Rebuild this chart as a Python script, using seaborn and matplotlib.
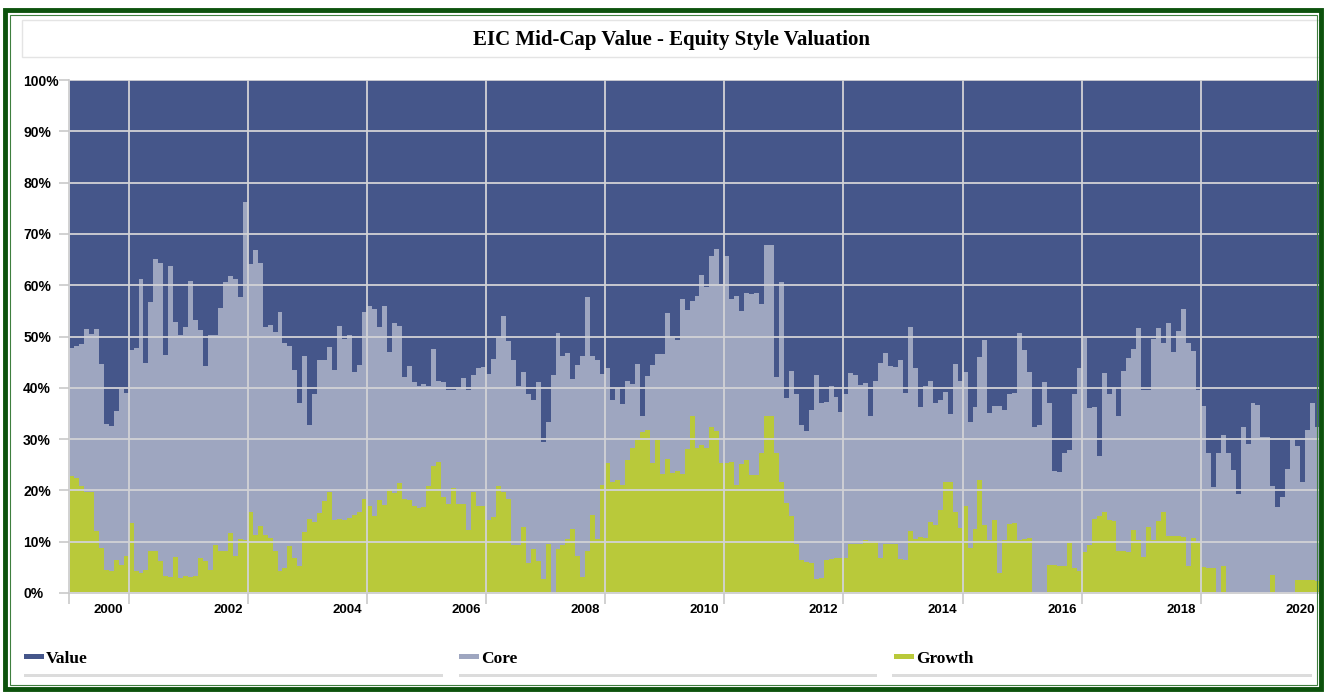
import numpy as np
import pandas as pd
import matplotlib
matplotlib.use("Agg")
import matplotlib.pyplot as plt
import seaborn as sns
from matplotlib.patches import Rectangle, FancyBboxPatch

# ---------------- data (monthly, Jan 1999 .. Dec 2019, percent) ----------------
styles = ["Value", "Core", "Growth"]

value = [
    52.2, 51.9, 51.5, 48.6, 49.5, 48.6, 55.4, 67.1, 67.4, 64.5, 60.2, 61.0,
    52.7, 52.2, 38.8, 55.1, 43.2, 34.8, 35.6, 53.7, 36.2, 47.1, 49.8, 48.1,
    39.1, 46.8, 48.8, 55.8, 49.8, 49.8, 44.4, 39.4, 38.3, 38.7, 42.3, 23.8,
    35.8, 33.1, 35.6, 48.1, 47.7, 49.2, 45.3, 51.2, 51.9, 56.6, 63.0, 53.8,
    67.3, 61.3, 54.6, 54.6, 52.1, 56.5, 47.9, 50.4, 49.8, 56.9, 55.6, 45.3,
    44.1, 44.6, 48.1, 44.1, 53.1, 47.3, 47.9, 57.8, 55.8, 58.8, 59.6, 59.2,
    59.6, 52.4, 58.6, 58.8, 60.5, 60.5, 60.3, 58.1, 60.5, 57.6, 56.1, 55.9,
    57.3, 54.4, 50.2, 46.1, 50.8, 54.6, 59.6, 56.9, 61.3, 62.3, 58.8, 70.5,
    66.7, 57.6, 49.3, 53.8, 53.2, 58.3, 55.6, 53.8, 42.3, 53.8, 54.6, 57.3,
    56.2, 62.4, 60.1, 63.1, 58.7, 59.2, 55.3, 65.4, 57.7, 55.6, 53.4, 53.4,
    45.4, 50.3, 50.7, 42.6, 44.9, 43.0, 42.1, 38.0, 40.3, 34.4, 32.9, 39.8,
    34.3, 42.6, 42.1, 45.1, 41.6, 41.7, 41.6, 43.6, 32.1, 32.1, 57.8, 39.4,
    61.9, 56.7, 61.3, 67.3, 68.4, 64.4, 57.6, 63.0, 62.7, 59.6, 61.7, 64.7,
    61.3, 57.1, 57.6, 59.4, 59.0, 65.5, 58.6, 55.2, 53.3, 55.8, 55.9, 54.6,
    61.0, 48.1, 56.1, 63.7, 59.6, 58.6, 63.0, 62.3, 60.8, 65.2, 55.4, 58.6,
    56.9, 66.6, 63.7, 53.9, 50.6, 65.0, 63.5, 63.5, 64.4, 61.3, 61.0, 49.3,
    52.7, 56.9, 67.7, 67.3, 58.8, 63.0, 76.3, 76.5, 72.7, 72.1, 61.2, 56.1,
    50.2, 64.0, 63.7, 73.2, 57.1, 61.2, 60.0, 65.5, 56.7, 54.2, 52.4, 48.3,
    60.5, 60.5, 50.5, 48.3, 51.3, 47.3, 53.1, 49.0, 44.7, 51.2, 52.9, 60.5,
    63.6, 72.8, 79.4, 72.8, 69.2, 72.7, 76.0, 80.7, 67.6, 70.9, 62.9, 63.4,
    69.6, 69.6, 79.1, 83.3, 81.2, 75.8, 69.9, 71.4, 78.4, 68.3, 62.9, 67.6,
]

core = [
    25.0, 25.7, 27.7, 31.7, 30.8, 39.4, 35.8, 28.4, 28.4, 29.1, 34.3, 31.8,
    33.6, 43.6, 57.3, 40.4, 48.6, 57.0, 58.2, 42.9, 60.6, 45.9, 47.2, 48.5,
    57.7, 49.8, 44.3, 38.0, 45.7, 40.9, 47.4, 52.4, 50.1, 54.1, 47.1, 65.8,
    48.5, 55.6, 51.3, 40.6, 41.5, 42.6, 50.4, 43.9, 39.0, 36.5, 31.8, 34.4,
    18.2, 24.9, 29.8, 27.5, 28.3, 29.3, 37.6, 35.3, 35.5, 27.8, 28.7, 36.3,
    39.0, 40.4, 33.8, 38.7, 26.6, 33.3, 30.7, 23.8, 26.1, 24.3, 23.9, 24.1,
    19.6, 22.8, 15.9, 22.5, 22.1, 19.1, 22.3, 24.5, 27.2, 22.8, 27.0, 27.2,
    28.4, 30.7, 29.0, 34.2, 30.8, 36.1, 31.1, 30.3, 32.8, 29.1, 35.0, 26.7,
    23.8, 42.4, 42.1, 36.9, 36.2, 29.3, 37.2, 43.0, 49.5, 30.9, 34.8, 21.7,
    18.5, 15.9, 17.9, 15.9, 15.4, 12.6, 14.8, 3.3, 10.5, 19.0, 16.8, 23.5,
    28.4, 26.3, 25.5, 34.3, 27.1, 22.4, 29.7, 33.1, 31.4, 33.2, 35.5, 34.8,
    40.3, 31.8, 36.9, 29.8, 32.5, 35.3, 35.4, 29.1, 33.4, 33.4, 15.0, 39.0,
    20.5, 28.2, 29.1, 26.3, 25.5, 29.7, 39.6, 34.0, 30.9, 33.8, 31.5, 28.5,
    31.9, 33.3, 32.9, 31.0, 30.7, 24.4, 31.3, 38.0, 37.1, 34.7, 34.6, 38.8,
    32.6, 39.9, 33.3, 25.3, 29.6, 27.6, 23.7, 21.5, 17.6, 13.2, 28.8, 28.8,
    26.1, 24.6, 23.9, 24.0, 36.1, 24.7, 22.3, 32.6, 25.3, 25.2, 25.3, 40.4,
    36.7, 32.3, 32.3, 32.7, 41.2, 31.6, 18.2, 18.3, 22.1, 18.2, 33.9, 39.6,
    41.9, 26.7, 21.8, 11.8, 27.2, 24.5, 26.0, 26.3, 35.2, 37.9, 35.4, 41.4,
    32.5, 26.7, 39.2, 37.7, 32.9, 41.6, 35.8, 39.9, 44.3, 43.6, 36.4, 29.7,
    31.3, 22.4, 15.7, 27.2, 25.6, 27.3, 24.0, 19.3, 32.4, 29.1, 37.1, 36.6,
    30.4, 30.4, 17.3, 16.7, 18.8, 24.2, 30.1, 26.0, 19.1, 29.1, 34.6, 30.1,
]

growth = [
    22.8, 22.4, 20.8, 19.7, 19.7, 12.0, 8.8, 4.5, 4.2, 6.4, 5.5, 7.2,
    13.7, 4.2, 3.9, 4.5, 8.2, 8.2, 6.2, 3.4, 3.2, 7.0, 3.0, 3.4,
    3.2, 3.4, 6.9, 6.2, 4.5, 9.3, 8.2, 8.2, 11.6, 7.2, 10.6, 10.4,
    15.7, 11.3, 13.1, 11.3, 10.8, 8.2, 4.3, 4.9, 9.1, 6.9, 5.2, 11.8,
    14.5, 13.8, 15.6, 17.9, 19.6, 14.2, 14.5, 14.3, 14.7, 15.3, 15.7, 18.4,
    16.9, 15.0, 18.1, 17.2, 20.3, 19.4, 21.4, 18.4, 18.1, 16.9, 16.5, 16.7,
    20.8, 24.8, 25.5, 18.7, 17.4, 20.4, 17.4, 17.4, 12.3, 19.6, 16.9, 16.9,
    14.3, 14.9, 20.8, 19.7, 18.4, 9.3, 9.3, 12.8, 5.9, 8.6, 6.2, 2.8,
    9.5, 0.0, 8.6, 9.3, 10.6, 12.4, 7.2, 3.2, 8.2, 15.3, 10.6, 21.0,
    25.3, 21.7, 22.0, 21.0, 25.9, 28.2, 29.9, 31.3, 31.8, 25.4, 29.8, 23.1,
    26.2, 23.4, 23.8, 23.1, 28.0, 34.6, 28.2, 28.9, 28.3, 32.4, 31.6, 25.4,
    25.4, 25.6, 21.0, 25.1, 25.9, 23.0, 23.0, 27.3, 34.5, 34.5, 27.2, 21.6,
    17.6, 15.1, 9.6, 6.4, 6.1, 5.9, 2.8, 3.0, 6.4, 6.6, 6.8, 6.8,
    6.8, 9.6, 9.5, 9.6, 10.3, 10.1, 10.1, 6.8, 9.6, 9.5, 9.5, 6.6,
    6.4, 12.0, 10.6, 11.0, 10.8, 13.8, 13.3, 16.2, 21.6, 21.6, 15.8, 12.6,
    17.0, 8.8, 12.4, 22.1, 13.3, 10.3, 14.2, 3.9, 10.3, 13.5, 13.7, 10.3,
    10.6, 10.8, 0.0, 0.0, 0.0, 5.4, 5.5, 5.2, 5.2, 9.7, 4.9, 4.3,
    7.9, 9.3, 14.5, 15.0, 15.7, 14.3, 14.0, 8.2, 8.1, 7.9, 12.2, 10.3,
    7.0, 12.8, 10.3, 14.0, 15.8, 11.1, 11.1, 11.1, 11.0, 5.2, 10.7, 9.8,
    5.1, 4.8, 4.9, 0.0, 5.2, 0.0, 0.0, 0.0, 0.0, 0.0, 0.0, 0.0,
    0.0, 0.0, 3.6, 0.0, 0.0, 0.0, 0.0, 2.6, 2.5, 2.6, 2.5, 2.3,
]

year_labels = ["2000", "2002", "2004", "2006", "2008", "2010",
               "2012", "2014", "2016", "2018", "2020"]
y_ticks = [0, 10, 20, 30, 40, 50, 60, 70, 80, 90, 100]
title = "EIC Mid-Cap Value - Equity Style Valuation"

palette = {"Value": "#45568a", "Core": "#9ea6c0", "Growth": "#b9c93a"}

# ---------------- frame ----------------
n = len(growth)
months = np.arange(n)
df = pd.DataFrame({
    "month": np.concatenate([months, months, months]).astype(float) + 0.5,
    "style": np.repeat(styles, n),
    "pct": np.concatenate([value, core, growth]),
})

sns.set_theme(style="white")
plt.rcParams["font.family"] = ["Liberation Sans", "DejaVu Sans"]

W, H = 1325, 692
fig = plt.figure(figsize=(W / 100, H / 100), dpi=100)
fig.patch.set_facecolor("white")

def fx(px):
    return px / W

def fy(py):
    return 1 - py / H

ax = fig.add_axes([fx(69), fy(593), fx(1320) - fx(69), fy(80) - fy(593)])

sns.histplot(
    data=df, x="month", weights="pct", hue="style", hue_order=styles,
    multiple="stack", bins=n, binrange=(0, n), element="step", fill=True,
    alpha=1, linewidth=0, palette=palette, legend=False, ax=ax,
    antialiased=False,
)

ax.set_xlim(0, n)
ax.set_ylim(0, 100)
ax.set_xlabel("")
ax.set_ylabel("")
ax.set_facecolor("white")

# gridlines on top of areas
major_x = [0] + [12 + 24 * k for k in range(len(year_labels))]
label_x = [8 + 24 * k for k in range(len(year_labels))]
ax.set_xticks(major_x)
ax.set_xticklabels([])
ax.set_xticks(label_x, minor=True)
ax.set_xticklabels(year_labels, minor=True)
ax.set_yticks(y_ticks)
ax.set_yticklabels([f"{v}%" for v in y_ticks])
ax.set_axisbelow(False)
ax.grid(True, which="major", axis="both", color="#d2d2d6", linewidth=1.3)
ax.grid(False, which="minor")

ax.tick_params(axis="x", which="major", bottom=True, length=8, width=1.2,
               color="#c9c9c9", labelbottom=False)
ax.tick_params(axis="x", which="minor", bottom=True, length=0, pad=8,
               labelsize=9.5, labelcolor="black")
ax.tick_params(axis="y", which="major", left=True, length=7, width=1.2,
               color="#c9c9c9", pad=26, labelsize=10, labelcolor="black")
for lbl in ax.get_yticklabels():
    lbl.set_fontweight("bold")
    lbl.set_horizontalalignment("left")
for lbl in ax.get_xticklabels(minor=True):
    lbl.set_fontweight("bold")

for s in ["top", "right"]:
    ax.spines[s].set_visible(False)
for s in ["left", "bottom"]:
    ax.spines[s].set_color("#c9c9c9")
    ax.spines[s].set_linewidth(1.2)

# ---------------- title box ----------------
tb = FancyBboxPatch((fx(22), fy(57)), fx(1320) - fx(22), fy(20) - fy(57),
                    boxstyle="square,pad=0", transform=fig.transFigure,
                    facecolor="white", edgecolor="#e4e4e4", linewidth=1.0)
fig.patches.append(tb)
fig.text(fx(672), fy(40), title, ha="center", va="center",
         fontsize=15, fontweight="bold", family=["Liberation Serif", "DejaVu Serif"],
         color="black")

# ---------------- legend ----------------
leg_x = [24, 459, 894]
sep_start = [24, 459, 892]
sep_end = [443, 877, 1312]
for st, x0, s0, x1 in zip(styles, leg_x, sep_start, sep_end):
    fig.patches.append(Rectangle((fx(x0), fy(659)), fx(20), fy(654) - fy(659),
                                 transform=fig.transFigure,
                                 facecolor=palette[st], edgecolor="none"))
    fig.text(fx(x0 + 22), fy(659), st, ha="left", va="center", fontsize=12.5,
             fontweight="bold", family=["Liberation Serif", "DejaVu Serif"],
             color="black")
    fig.patches.append(Rectangle((fx(s0), fy(677)), fx(x1) - fx(s0), fy(674) - fy(677),
                                 transform=fig.transFigure,
                                 facecolor="#dcdcdc", edgecolor="none"))

# ---------------- green frame ----------------
fig.patches.append(Rectangle((fx(5), fy(689)), fx(1321) - fx(5), fy(10) - fy(689),
                             transform=fig.transFigure, fill=False,
                             edgecolor="#0d520d", linewidth=3.5))
fig.patches.append(Rectangle((fx(10), fy(685)), fx(1317) - fx(10), fy(15) - fy(685),
                             transform=fig.transFigure, fill=False,
                             edgecolor="#3f7f3f", linewidth=0.8))

fig.savefig("out.png", dpi=100, facecolor="white")
